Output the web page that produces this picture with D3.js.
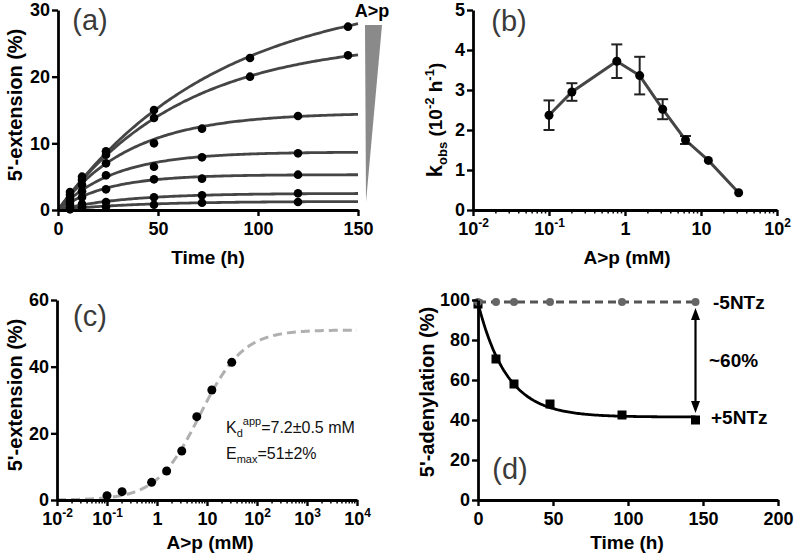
<!DOCTYPE html>
<html><head><meta charset="utf-8">
<script src="https://cdn.jsdelivr.net/npm/d3@7/dist/d3.min.js"></script>
<style>
body{margin:0;background:#fff;}
svg{font-family:"Liberation Sans",Arial,sans-serif;}
</style></head>
<body><svg id="c" width="794" height="558"></svg>
<script>
// ---------- DATA ----------
// Panel (a)
const timesTop = [6, 12, 24, 48, 96, 145];
const timesLow = [6, 12, 24, 48, 72, 120];
const extA1 = [2.7, 5.0, 8.8, 15.0, 22.8, 27.5];
const extA2 = [2.3, 4.5, 8.3, 13.8, 20.0, 23.2];
const extA3 = [1.8, 3.8, 7.0, 10.0, 12.2, 14.1];
const extA4 = [1.3, 2.8, 5.2, 6.5, 7.9, 8.5];
const extA5 = [0.9, 1.9, 3.1, 4.6, 4.7, 5.3];
const extA6 = [0.4, 0.9, 1.2, 1.9, 2.2, 2.5];
const extA7 = [0.1, 0.4, 0.5, 0.8, 1.1, 1.2];
const fitAmp = [33, 25.6, 14.6, 8.7, 5.3, 2.5, 1.3];
const fitRate = [0.0125, 0.016, 0.027, 0.035, 0.04, 0.03, 0.025];
const ticksA_x = [0, 50, 100, 150];
const ticksA_y = [0, 10, 20, 30];
// Panel (b)
const concB = [0.1, 0.2, 0.78, 1.56, 3.13, 6.25, 12.5, 31.3];
const kobs = [2.37, 2.95, 3.72, 3.36, 2.52, 1.75, 1.24, 0.43];
const kerr = [0.37, 0.22, 0.42, 0.47, 0.25, 0.10, 0.03, 0.02];
const ticksB_y = [0, 1, 2, 3, 4, 5];
// Panel (c)
const concC = [0.1, 0.2, 0.78, 1.56, 3.13, 6.25, 12.5, 31.3];
const extC = [1.3, 2.5, 5.3, 8.7, 14.7, 25.0, 33.0, 41.3];
const kdApp = 7.2, eMax = 51;
const ticksC_y = [0, 20, 40, 60];
// Panel (d)
const timesD = [0, 12, 24, 48, 96, 145];
const minusNTz = [99, 99, 99, 99, 99, 99];
const plusNTz = [98, 70.5, 58, 48, 42.5, 40];
const fitD = {plateau: 41.5, span: 57, rate: 0.052};
const ticksD_x = [0, 50, 100, 150, 200];
const ticksD_y = [0, 20, 40, 60, 80, 100];

// ---------- HELPERS ----------
const svg = d3.select("#c");
const AX = "#000";
const TICK_FS = 18;
function styleAxis(g){
  g.select(".domain").attr("stroke", AX).attr("stroke-width", 2.8);
  g.selectAll(".tick line").attr("stroke", AX).attr("stroke-width", 2.4);
  g.selectAll(".tick text").attr("fill", "#000").attr("font-size", TICK_FS).attr("font-weight", "bold");
}
function supLabel(sel, v){
  const e = Math.round(Math.log10(v));
  sel.text(null);
  if (e === 0) { sel.text("1"); return; }
  if (e === 1) { sel.text("10"); return; }
  sel.append("tspan").text("10");
  sel.append("tspan").attr("dy", -8).attr("font-size", 12).text(String(e));
}
function logMinor(g, x, lo, hi){
  const vals = [];
  for (let e = lo; e < hi; e++) for (let m = 2; m <= 9; m++) vals.push(m * Math.pow(10, e));
  g.selectAll("line.minor").data(vals).join("line").attr("class", "minor")
    .attr("x1", d => x(d)).attr("x2", d => x(d))
    .attr("y1", 0).attr("y2", 3.5)
    .attr("stroke", AX).attr("stroke-width", 1.5);
}
function titleX(text, cx, y){
  svg.append("text").attr("x", cx).attr("y", y).attr("text-anchor", "middle")
    .attr("font-size", 19).attr("font-weight", "bold").text(text);
}
function titleY(text, cx, cy){
  svg.append("text").attr("transform", `translate(${cx},${cy}) rotate(-90)`).attr("text-anchor", "middle")
    .attr("font-size", 20).attr("font-weight", "bold").text(text);
}
function panelLabel(text, x, y){
  svg.append("text").attr("x", x).attr("y", y).attr("text-anchor", "middle")
    .attr("font-size", 29).attr("fill", "#3a3a3a").text(text);
}

// ---------- PANEL (a) ----------
{
  const x = d3.scaleLinear().domain([0, 150]).range([58, 358]);
  const y = d3.scaleLinear().domain([0, 30]).range([210, 10]);
  const g = svg.append("g");
  const series = [extA1, extA2, extA3, extA4, extA5, extA6, extA7];
  const line = d3.line().x(d => x(d[0])).y(d => y(d[1]));
  const tGrid = d3.range(0, 150.5, 1);
  series.forEach((s, i) => {
    const A = fitAmp[i], k = fitRate[i];
    g.append("path").datum(tGrid.map(t => [t, A * (1 - Math.exp(-k * t))]))
      .attr("d", line).attr("fill", "none").attr("stroke", "#454545").attr("stroke-width", 2.8);
  });
  series.forEach((s, i) => {
    const ts = i < 2 ? timesTop : timesLow;
    g.selectAll(null).data(s).join("circle")
      .attr("cx", (d, j) => x(ts[j])).attr("cy", d => y(d)).attr("r", 4.3).attr("fill", "#000");
  });
  const xa = svg.append("g").attr("transform", "translate(0,210)")
    .call(d3.axisBottom(x).tickValues(ticksA_x).tickSize(6).tickSizeOuter(0).tickPadding(6));
  styleAxis(xa);
  const ya = svg.append("g").attr("transform", "translate(58,0)")
    .call(d3.axisLeft(y).tickValues(ticksA_y).tickSize(6).tickSizeOuter(0).tickPadding(2));
  styleAxis(ya);
  // wedge
  svg.append("path").attr("d", `M365,25 L382,25 L366,202 Z`).attr("fill", "#8a8a8a");
  svg.append("text").attr("x", 372).attr("y", 17).attr("text-anchor", "middle")
    .attr("font-size", 18).attr("font-weight", "bold").text("A>p");
  titleX("Time (h)", 208, 264);
  titleY("5'-extension (%)", 22, 105);
  panelLabel("(a)", 90, 30);
}

// ---------- PANEL (b) ----------
{
  const x = d3.scaleLog().domain([0.01, 100]).range([473, 777]);
  const y = d3.scaleLinear().domain([0, 5]).range([210, 10]);
  const g = svg.append("g");
  const pts = concB.map((c, i) => [c, kobs[i], kerr[i]]);
  g.append("path").datum(pts).attr("d", d3.line().x(d => x(d[0])).y(d => y(d[1])))
    .attr("fill", "none").attr("stroke", "#454545").attr("stroke-width", 3);
  pts.forEach(d => {
    if (d[2] > 0.05) {
      g.append("line").attr("x1", x(d[0])).attr("x2", x(d[0])).attr("y1", y(d[1] - d[2])).attr("y2", y(d[1] + d[2]))
        .attr("stroke", "#222").attr("stroke-width", 2);
      [d[1] - d[2], d[1] + d[2]].forEach(v => g.append("line").attr("x1", x(d[0]) - 5.5).attr("x2", x(d[0]) + 5.5)
        .attr("y1", y(v)).attr("y2", y(v)).attr("stroke", "#222").attr("stroke-width", 2));
    }
  });
  g.selectAll(null).data(pts).join("circle").attr("cx", d => x(d[0])).attr("cy", d => y(d[1])).attr("r", 4.5).attr("fill", "#000");
  const xa = svg.append("g").attr("transform", "translate(0,210)")
    .call(d3.axisBottom(x).tickValues([0.01, 0.1, 1, 10, 100]).tickSize(6).tickSizeOuter(0).tickPadding(6));
  styleAxis(xa);
  xa.selectAll(".tick text").each(function(d){ supLabel(d3.select(this), d); });
  logMinor(xa, x, -2, 2);
  const ya = svg.append("g").attr("transform", "translate(473,0)")
    .call(d3.axisLeft(y).tickValues(ticksB_y).tickFormat(d3.format("d")).tickSize(6).tickSizeOuter(0).tickPadding(2));
  styleAxis(ya);
  titleX("A>p (mM)", 627, 264);
  const t = svg.append("text").attr("transform", "translate(442,120) rotate(-90)").attr("text-anchor", "middle")
    .attr("font-size", 19).attr("font-weight", "bold");
  t.append("tspan").attr("font-size", 22).text("k");
  t.append("tspan").attr("font-size", 13).attr("dy", 5).text("obs");
  t.append("tspan").attr("dy", -5).text(" (10");
  t.append("tspan").attr("font-size", 13).attr("dy", -8).text("-2");
  t.append("tspan").attr("dy", 8).text(" h");
  t.append("tspan").attr("font-size", 13).attr("dy", -8).text("-1");
  t.append("tspan").attr("dy", 8).text(")");
  panelLabel("(b)", 509, 31);
}

// ---------- PANEL (c) ----------
{
  const x = d3.scaleLog().domain([0.01, 10000]).range([57, 357]);
  const y = d3.scaleLinear().domain([0, 60]).range([500, 300]);
  const g = svg.append("g");
  const grid = d3.range(-2, 4.001, 0.02).map(e => Math.pow(10, e));
  g.append("path").datum(grid.map(c => [c, eMax * c / (kdApp + c)]))
    .attr("d", d3.line().x(d => x(d[0])).y(d => y(d[1])))
    .attr("fill", "none").attr("stroke", "#b0b0b0").attr("stroke-width", 3).attr("stroke-dasharray", "9,5");
  g.selectAll(null).data(concC).join("circle").attr("cx", d => x(d)).attr("cy", (d, i) => y(extC[i])).attr("r", 4.5).attr("fill", "#000");
  const xa = svg.append("g").attr("transform", "translate(0,500)")
    .call(d3.axisBottom(x).tickValues([0.01, 0.1, 1, 10, 100, 1000, 10000]).tickSize(6).tickSizeOuter(0).tickPadding(6));
  styleAxis(xa);
  xa.selectAll(".tick text").each(function(d){ supLabel(d3.select(this), d); });
  logMinor(xa, x, -2, 4);
  const ya = svg.append("g").attr("transform", "translate(57,0)")
    .call(d3.axisLeft(y).tickValues(ticksC_y).tickSize(6).tickSizeOuter(0).tickPadding(2));
  styleAxis(ya);
  titleX("A>p (mM)", 210, 549);
  titleY("5'-extension (%)", 22, 395);
  panelLabel("(c)", 90, 326);
  const t1 = svg.append("text").attr("x", 226).attr("y", 433).attr("font-size", 16).attr("fill", "#111");
  t1.append("tspan").text("K");
  t1.append("tspan").attr("font-size", 11).attr("dy", 4).text("d");
  t1.append("tspan").attr("font-size", 11).attr("dy", -12).text("app");
  t1.append("tspan").attr("dy", 8).text("=7.2±0.5 mM");
  const t2 = svg.append("text").attr("x", 226).attr("y", 459).attr("font-size", 16).attr("fill", "#111");
  t2.append("tspan").text("E");
  t2.append("tspan").attr("font-size", 11).attr("dy", 4).text("max");
  t2.append("tspan").attr("dy", -4).text("=51±2%");
}

// ---------- PANEL (d) ----------
{
  const x = d3.scaleLinear().domain([0, 200]).range([478, 778]);
  const y = d3.scaleLinear().domain([0, 100]).range([500, 300]);
  const g = svg.append("g");
  const grid = d3.range(0, 145.5, 1);
  g.append("path").datum(grid.map(t => [t, fitD.plateau + fitD.span * Math.exp(-fitD.rate * t)]))
    .attr("d", d3.line().x(d => x(d[0])).y(d => y(d[1])))
    .attr("fill", "none").attr("stroke", "#000").attr("stroke-width", 2.8);
  g.selectAll(null).data(timesD).join("rect")
    .attr("x", d => x(d) - 4.5).attr("y", (d, i) => y(plusNTz[i]) - 4.5).attr("width", 9).attr("height", 9).attr("fill", "#000");
  g.append("path").datum(timesD.map((t, i) => [t, minusNTz[i]]))
    .attr("d", d3.line().x(d => x(d[0])).y(d => y(d[1])))
    .attr("fill", "none").attr("stroke", "#555").attr("stroke-width", 2.8).attr("stroke-dasharray", "8,5");
  g.selectAll(null).data(timesD).join("circle")
    .attr("cx", d => x(d)).attr("cy", (d, i) => y(minusNTz[i])).attr("r", 4).attr("fill", "#666");
  // double arrow
  const ax = x(145);
  g.append("line").attr("x1", ax).attr("x2", ax).attr("y1", 316).attr("y2", 405).attr("stroke", "#000").attr("stroke-width", 2.2);
  g.append("path").attr("d", `M${ax},308 L${ax - 4.5},320 L${ax + 4.5},320 Z`).attr("fill", "#000");
  g.append("path").attr("d", `M${ax},413 L${ax - 4.5},401 L${ax + 4.5},401 Z`).attr("fill", "#000");
  const xa = svg.append("g").attr("transform", "translate(0,500)")
    .call(d3.axisBottom(x).tickValues(ticksD_x).tickSize(6).tickSizeOuter(0).tickPadding(6));
  styleAxis(xa);
  const ya = svg.append("g").attr("transform", "translate(478,0)")
    .call(d3.axisLeft(y).tickValues(ticksD_y).tickSize(6).tickSizeOuter(0).tickPadding(2));
  styleAxis(ya);
  titleX("Time (h)", 627, 549);
  titleY("5'-adenylation (%)", 434, 392);
  panelLabel("(d)", 510, 479);
  svg.append("text").attr("x", 713).attr("y", 309).attr("font-size", 19).attr("font-weight", "bold").text("-5NTz");
  svg.append("text").attr("x", 711).attr("y", 424).attr("font-size", 19).attr("font-weight", "bold").text("+5NTz");
  svg.append("text").attr("x", 709).attr("y", 367).attr("font-size", 19).attr("font-weight", "bold").text("~60%");
}
</script></body></html>
